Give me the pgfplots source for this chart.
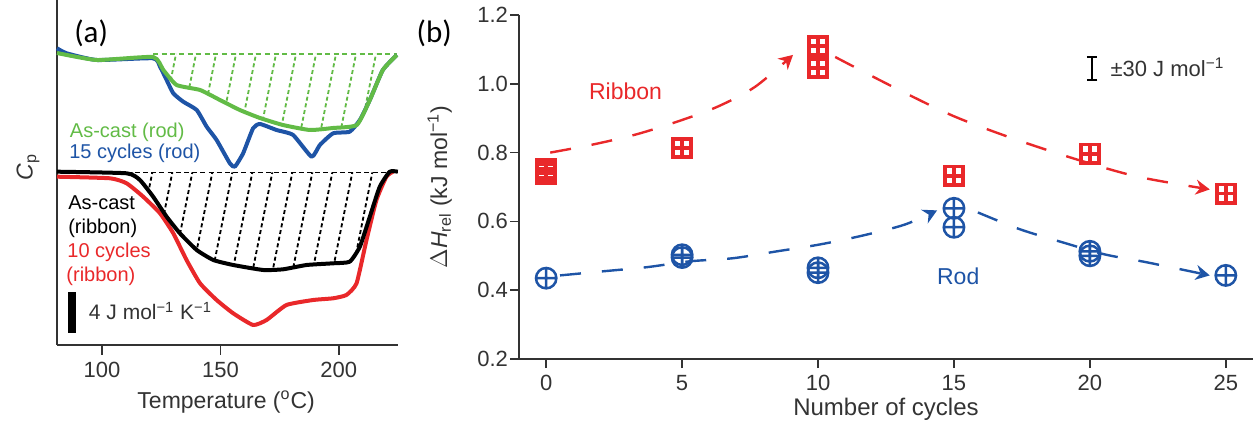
\documentclass[border=0pt]{standalone}
\usepackage{fontspec}
\setmainfont{Liberation Sans}
\newfontfamily\calfont{Carlito}
\usepackage{pgfplots}
\pgfplotsset{compat=1.18}
\usetikzlibrary{patterns,arrows.meta}

\definecolor{cgreen}{RGB}{98,187,70}
\definecolor{cblue}{RGB}{30,84,166}
\definecolor{cred}{RGB}{233,40,42}
\definecolor{cgray}{RGB}{51,51,51}

\pgfdeclarepatternformonly{steephatch}{\pgfqpoint{-1pt}{-1pt}}{\pgfqpoint{11pt}{51pt}}{\pgfqpoint{10pt}{50pt}}{%
  \pgfsetlinewidth{0.9pt}\pgfsetdash{{2pt}{1.4pt}}{0pt}%
  \pgfpathmoveto{\pgfqpoint{0pt}{0pt}}\pgfpathlineto{\pgfqpoint{10pt}{50pt}}\pgfusepath{stroke}}

\pgfdeclareplotmark{boxplus}{%
  \pgfpathrectangle{\pgfqpoint{-\pgfplotmarksize}{-\pgfplotmarksize}}{\pgfqpoint{2\pgfplotmarksize}{2\pgfplotmarksize}}%
  \pgfpathmoveto{\pgfqpoint{-\pgfplotmarksize}{0pt}}\pgfpathlineto{\pgfqpoint{\pgfplotmarksize}{0pt}}%
  \pgfpathmoveto{\pgfqpoint{0pt}{-\pgfplotmarksize}}\pgfpathlineto{\pgfqpoint{0pt}{\pgfplotmarksize}}%
  \pgfusepathqstroke}

\newcommand{\mone}{\textsuperscript{\char"2212 1}}

\begin{document}
\begin{tikzpicture}
\useasboundingbox (0,0) rectangle (627.5pt,217pt);

% ---------------- panel (a) ----------------
\begin{axis}[
  at={(28.5pt,44.5pt)}, anchor=south west,
  width=170.5pt, height=172.5pt, scale only axis,
  xmin=81, xmax=225, ymin=0, ymax=345,
  axis x line*=bottom, axis y line*=left,
  axis line style={cgray, line width=0.8pt},
  major tick style={cgray, line width=0.8pt},
  xtick={100,150,200}, ytick=\empty,
  tick align=outside, major tick length=5pt,
  tick label style={font=\fontsize{11}{13}\selectfont, text=cgray},
  /pgf/number format/assume math mode=true,
  xlabel={Temperature (\textsuperscript{o}C)},
  xlabel style={font=\fontsize{11.5}{13}\selectfont, text=cgray, at={(axis description cs:0.496,-0.165)}, anchor=center},
  ylabel={\textit{C}\textsubscript{p}},
  ylabel style={font=\fontsize{11.5}{13}\selectfont, text=cgray, at={(axis description cs:-0.085,0.516)}, anchor=center},
  clip=false,
]
% hatched areas (baseline + as-cast curve)
\addplot[draw=none, pattern=steephatch, pattern color=cgreen, forget plot] coordinates {
(121.6,291) (224.5,291) (224.5,290) (218.6,275) (213.1,245) (207.6,220) (197.5,217) (187.8,215)
(176.4,220) (166.7,227) (158.2,235) (149.8,245) (141.4,255) (131.5,260) (125.9,275) (121.6,288) (121.6,291)};
\addplot[draw=none, pattern=steephatch, pattern color=black, forget plot] coordinates {
(110.4,172.5) (224.9,172.5) (221.5,172.5) (217.3,158.3) (213.1,128.3) (208.9,98.3) (204.6,83.3) (197.6,81.7)
(186.4,80) (176.5,75.7) (168.1,75) (155.4,80) (147.0,85) (140.0,95) (132.9,111.7) (127.3,128.3)
(121.6,148.3) (116.0,165) (110.4,171.7) (110.4,172.5)};

% baselines
\addplot[cgreen, line width=0.9pt, dash pattern=on 2.5pt off 1.8pt] coordinates {(121.6,291) (224.5,291)};
\addplot[black, line width=0.9pt, dash pattern=on 2.5pt off 1.6pt] coordinates {(110.4,172.5) (224.9,172.5)};

% 15 cycles (rod)
\addplot[cblue, line width=2pt, line join=round, smooth, tension=0.3] coordinates {
(81,296.7) (85.1,291.7) (97.8,285) (121.6,286.7) (124.5,278.3) (127.3,265) (130.1,251.7) (134.3,243.3)
(140.0,235) (144.2,218.3) (148.4,205) (154.0,181.7) (156.1,178.3) (159.6,191.7) (163.8,216.7) (166.7,221)
(173.7,215) (180.7,210) (188.5,188.3) (192,200) (197.6,211.7) (204.6,213.3) (208.9,225) (213.1,245)
(218.6,275) (224.5,290)};
% as-cast (rod)
\addplot[cgreen, line width=2pt, line join=round, smooth, tension=0.3] coordinates {
(81,292) (97.8,285) (121.6,288) (125.9,275) (131.5,260) (141.4,255) (149.8,245) (158.2,235)
(166.7,227) (176.4,220) (187.8,215) (197.5,217) (207.6,220) (213.1,245) (218.6,275) (224.5,290)};
% 10 cycles (ribbon)
\addplot[cred, line width=2pt, line join=round, smooth, tension=0.3] coordinates {
(81,168.3) (103.4,166.7) (110.4,161.7) (117.4,148.3) (124.5,131.7) (130.1,111.7) (135.7,85) (141.4,61.7)
(148.4,45) (155.4,31.7) (163.8,20) (169.5,25) (177.9,40) (189.2,45) (197.6,46.7) (203.2,50)
(207.5,61.7) (211.7,105) (215.9,145) (220.1,168.3) (222.9,173.3)};
% as-cast (ribbon)
\addplot[black, line width=2pt, line join=round, smooth, tension=0.3] coordinates {
(81,173.3) (110.4,171.7) (116.0,165) (121.6,148.3) (127.3,128.3) (132.9,111.7) (140.0,95) (147.0,85)
(155.4,80) (168.1,75) (176.5,75.7) (186.4,80) (197.6,81.7) (204.6,83.3) (208.9,98.3) (213.1,128.3)
(217.3,158.3) (221.5,173.3) (224.9,173.3)};

% scale bar
\addplot[black, line width=4pt] coordinates {(87.3,12) (87.3,53)};
\node[anchor=base west, font=\fontsize{10.5}{12}\selectfont, text=cgray] at (axis cs:91.5,25) {4 J mol\mone{} K\mone};

\node[anchor=base west, font=\fontsize{10}{12}\selectfont, text=cgreen] at (axis cs:83.5,207.5) {As-cast (rod)};
\node[anchor=base west, font=\fontsize{10}{12}\selectfont, text=cblue] at (axis cs:83.2,186.5) {15 cycles (rod)};
\node[anchor=base west, font=\fontsize{10}{12}\selectfont, text=black] at (axis cs:82.8,135.5) {As-cast};
\node[anchor=base west, font=\fontsize{10}{12}\selectfont, text=black] at (axis cs:82.8,111.5) {(ribbon)};
\node[anchor=base west, font=\fontsize{10}{12}\selectfont, text=cred] at (axis cs:82.4,87.5) {10 cycles};
\node[anchor=base west, font=\fontsize{10}{12}\selectfont, text=cred] at (axis cs:82.0,63.5) {(ribbon)};

\node[anchor=center, font=\calfont\fontsize{15.5}{17}\selectfont] at (axis cs:95.4,312) {(a)};
\end{axis}

% ---------------- panel (b) ----------------
\begin{axis}[
  at={(259.5pt,37.5pt)}, anchor=south west,
  width=367pt, height=172pt, scale only axis,
  xmin=-1, xmax=26, ymin=0.2, ymax=1.2,
  axis x line*=bottom, axis y line*=left,
  axis line style={cgray, line width=0.8pt},
  major tick style={cgray, line width=0.8pt},
  xtick={0,5,10,15,20,25}, ytick={0.2,0.4,0.6,0.8,1.0,1.2},
  yticklabel style={xshift=2.5pt, /pgf/number format/.cd, fixed, fixed zerofill, precision=1},
  tick align=outside, major tick length=4.5pt,
  tick label style={font=\fontsize{11}{13}\selectfont, text=cgray},
  /pgf/number format/assume math mode=true,
  xlabel={Number of cycles},
  xlabel style={font=\fontsize{12}{13}\selectfont, text=cgray, at={(axis description cs:0.5,-0.145)}, anchor=center},
  ylabel={$\Delta$\textit{H}\textsubscript{rel} (kJ mol\mone)},
  ylabel style={font=\fontsize{11.5}{13}\selectfont, text=cgray, at={(axis description cs:-0.108,0.5)}, anchor=center},
  clip=false,
]
% trend arrows
\addplot[cred, line width=1.2pt, dash pattern=on 10.5pt off 10.5pt, smooth, -{Stealth[length=7pt,width=7.5pt]}] coordinates {
(0.15,0.800) (1.69,0.823) (3.27,0.852) (4.82,0.890) (6.29,0.933) (7.68,0.991) (9.08,1.084)};
\addplot[cred, line width=1.2pt, dash pattern=on 10.5pt off 10.5pt, smooth, -{Stealth[length=7pt,width=7.5pt]}] coordinates {
(10.63,1.078) (12.76,0.991) (14.96,0.907) (17.17,0.841) (19.52,0.780) (21.76,0.730) (24.41,0.693)};
\addplot[cblue, line width=1.2pt, dash pattern=on 10.5pt off 10.5pt, smooth, -{Stealth[length=7pt,width=7.5pt]}] coordinates {
(0.51,0.443) (2.10,0.455) (3.71,0.467) (5.29,0.484) (6.88,0.493) (8.49,0.513) (10.07,0.533) (11.65,0.559) (13.2,0.591) (14.38,0.632)};
\addplot[cblue, line width=1.2pt, dash pattern=on 10.5pt off 10.5pt, smooth, -{Stealth[length=7pt,width=7.5pt]}] coordinates {
(15.88,0.626) (17.43,0.577) (19.0,0.539) (20.55,0.504) (22.1,0.481) (24.41,0.443)};

% ribbon data
\addplot[only marks, mark=boxplus, mark size=4.55pt, cred, mark options={line width=1.9pt, line join=miter}] coordinates {
(0,0.739) (0,0.746) (0,0.752) (5,0.814) (10,1.046) (10,1.110) (15,0.733) (20,0.797) (25,0.681)};
% rod data
\addplot[only marks, mark=oplus, mark size=5.1pt, cblue, mark options={line width=1.25pt}] coordinates {
(0,0.435) (5,0.495) (5,0.503) (10,0.451) (10,0.465) (15,0.583) (15,0.638) (20,0.500) (20,0.513) (25,0.443)};

% error bar legend
\addplot[black, line width=0.9pt, mark=none, draw=none, error bars/.cd, y dir=both, y explicit,
  error bar style={line width=0.9pt, black}, error mark options={rotate=90, mark size=2.6pt, line width=0.9pt, black}]
  coordinates {(20.08,1.045) +- (0,0.0333)};

\node[anchor=base west, font=\fontsize{11}{13}\selectfont, text=cgray] at (axis cs:20.5,1.020) {±30 J mol\mone};
\node[anchor=base west, font=\fontsize{11.5}{13}\selectfont, text=cred] at (axis cs:1.32,0.954) {Ribbon};
\node[anchor=base west, font=\fontsize{11.5}{13}\selectfont, text=cblue] at (axis cs:14.12,0.417) {Rod};
\node[anchor=center, font=\calfont\fontsize{15.5}{17}\selectfont] at (axis cs:-4.12,1.148) {(b)};
\end{axis}
\end{tikzpicture}
\end{document}
